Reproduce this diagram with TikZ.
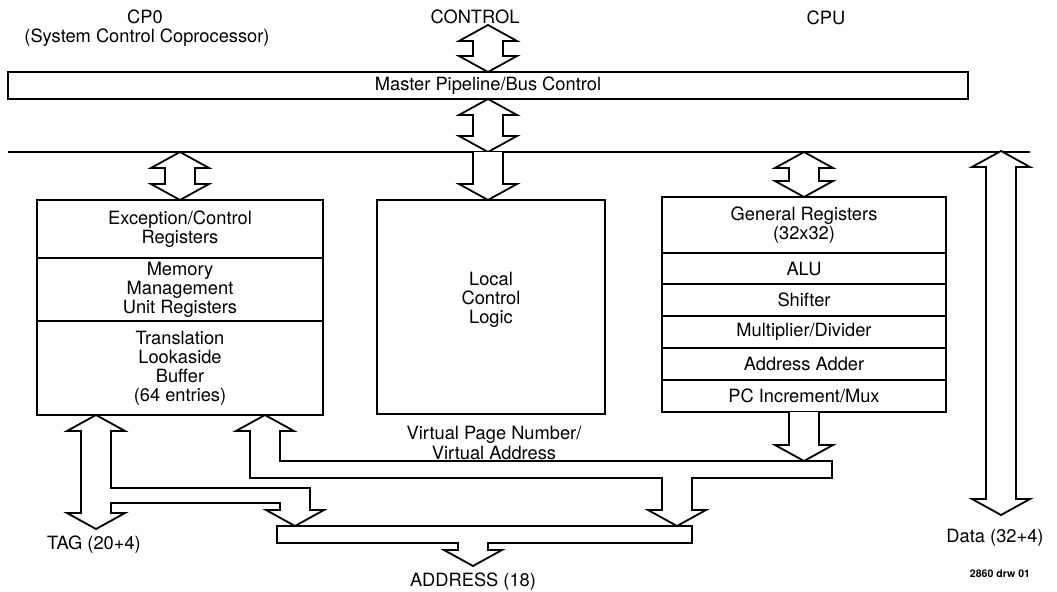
\documentclass[tikz,border=0pt]{standalone}
\usepackage{fontspec}
\setmainfont{TeX Gyre Heros}
\usepackage{tikz}
\usetikzlibrary{calc,positioning}
\def\pxu{0.025cm}
\def\hw{29}% half width of an arrow head
\def\sw{15}% half width of an arrow shaft
\def\hl{16}% length of an arrow head
\newcommand{\labfont}{\fontsize{13}{13.6}\selectfont}
\tikzset{
  line/.style={draw=black, line width=1.3pt, line join=miter},
  fat/.style={line, fill=white},
  cell/.style={line, outer sep=0pt, inner sep=0pt, align=center, font=\labfont},
  lab/.style={align=center, font=\labfont, inner sep=0pt},
}
% hollow double arrow, tip #1 above tip #2
\newcommand{\fatdbl}[2]{%
  \draw[fat] (#1) -- ++(\hw,\hl) -- ++(\sw-\hw,0) -- ($(#2)+(\sw,-\hl)$) -- ++(\hw-\sw,0)
    -- (#2) -- ++(-\hw,-\hl) -- ++(\hw-\sw,0) -- ($(#1)+(-\sw,\hl)$) -- ++(\sw-\hw,0) -- cycle;}
% hollow arrow pointing down, tail #1, tip #2
\newcommand{\fatdown}[2]{%
  \draw[fat] ($(#1)+(-\sw,0)$) -- ($(#2)+(-\sw,-\hl)$) -- ++(\sw-\hw,0) -- (#2)
    -- ++(\hw,-\hl) -- ++(\sw-\hw,0) -- ($(#1)+(\sw,0)$);}

\begin{document}
\begin{tikzpicture}[x=\pxu, y=-\pxu]
  \useasboundingbox (0,0) rectangle (1057,591);

  % titles
  \node[lab] (cp0) at (145,17) {CP0};
  \node[lab] (cp0sub) at (147,38) {(System Control Coprocessor)};
  \node[lab] (ctrl) at (475,17) {CONTROL};
  \node[lab] (cpu) at (826,18) {CPU};

  \node[cell, minimum width=960*\pxu, minimum height=27*\pxu] (master) at (488,85.5) {Master Pipeline/Bus Control};
  \coordinate (busL) at (8,152);
  \coordinate (busR) at (1030,152);
  \draw[line] (busL) -- (busR);

  % CP0 block
  \node[cell, minimum width=286*\pxu, minimum height=58*\pxu, anchor=north west] (excreg) at (37,200) {Exception/Control\\Registers};
  \node[cell, minimum width=286*\pxu, minimum height=63*\pxu, below=0pt of excreg] (mmu) {Memory\\Management\\Unit Registers};
  \node[cell, minimum width=286*\pxu, minimum height=94*\pxu, below=0pt of mmu] (tlb) {Translation\\Lookaside\\Buffer\\(64 entries)};

  % control block
  \node[cell, minimum width=228*\pxu, minimum height=214*\pxu, anchor=north west] (lcbox) at (377,200) {};
  \node[lab] (lctext) at (491,300) {Local\\Control\\Logic};

  % CPU block
  \node[cell, minimum width=284*\pxu, minimum height=56*\pxu, anchor=north west] (genreg) at (662,197) {General Registers\\(32x32)};
  \node[cell, minimum width=284*\pxu, minimum height=31*\pxu, below=0pt of genreg] (alu) {ALU};
  \node[cell, minimum width=284*\pxu, minimum height=32*\pxu, below=0pt of alu] (shift) {Shifter};
  \node[cell, minimum width=284*\pxu, minimum height=32*\pxu, below=0pt of shift] (muldiv) {Multiplier/Divider};
  \node[cell, minimum width=284*\pxu, minimum height=32*\pxu, below=0pt of muldiv] (adder) {Address Adder};
  \node[cell, minimum width=284*\pxu, minimum height=32*\pxu, below=0pt of adder] (pcmux) {PC Increment/Mux};

  % arrows to and from the bus
  \coordinate (ctrltop) at (488,25);
  \coordinate (midbus) at (master.south |- busL);
  \coordinate (cp0bus) at (excreg.north |- busL);
  \coordinate (lcbus) at (488,152);
  \coordinate (lcin) at (488,200);
  \coordinate (cpubus) at (genreg.north |- busL);
  \coordinate (datatop) at (1001,151);
  \coordinate (databot) at (1001,515);
  \fatdbl{ctrltop}{master.north}
  \fatdbl{master.south}{midbus}
  \fatdbl{cp0bus}{excreg.north}
  \fatdown{lcbus}{lcin}
  \fatdbl{cpubus}{genreg.north}
  \fatdbl{datatop}{databot}

  % address bar
  \draw[fat] (277,526) -- (692,526) -- (692,543) -- (488,543) -- (488,550) -- (502,550)
    -- (473,566) -- (444,550) -- (458,550) -- (458,543) -- (277,543) -- cycle;
  % tag bus
  \draw[fat] (96,415) -- (125,431) -- (111,431) -- (111,488) -- (310,488) -- (310,510) -- (324,510)
    -- (295,526) -- (266,510) -- (280,510) -- (280,503) -- (111,503) -- (111,513) -- (125,513)
    -- (96,529) -- (67,513) -- (81,513) -- (81,431) -- (67,431) -- cycle;
  % virtual page number bus
  \draw[fat] (265,415) -- (294,431) -- (280,431) -- (280,461) -- (832,461) -- (832,478) -- (692,478)
    -- (692,510) -- (706,510) -- (677,526) -- (648,510) -- (662,510) -- (662,478) -- (250,478)
    -- (250,431) -- (236,431) -- cycle;
  \coordinate (cputip) at (804,461);
  \fatdown{pcmux.south}{cputip}

  % labels
  \node[lab] (vpn) at (494,443) {Virtual Page Number/\\Virtual Address};
  \node[lab] (tag) at (94,545) {TAG (20+4)};
  \node[lab] (addr) at (473,582) {ADDRESS (18)};
  \node[lab] (data) at (995,538) {Data (32+4)};
  \node[lab, font=\fontsize{7.5}{8}\selectfont\bfseries] (drw) at (1000,574) {2860 drw 01};
\end{tikzpicture}
\end{document}
